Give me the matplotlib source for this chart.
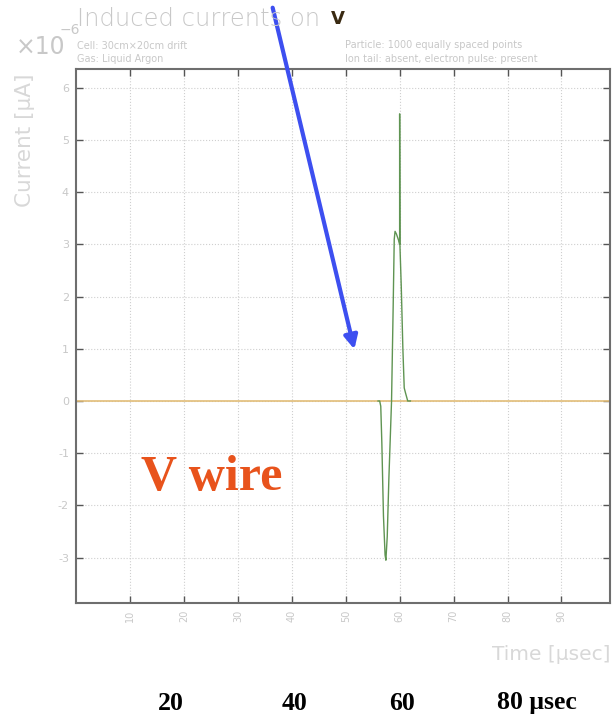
import matplotlib
matplotlib.use("Agg")
import matplotlib.pyplot as plt
import numpy as np

# ---- data ----
time_us = [56.0, 56.3, 56.5, 56.7, 57.0, 57.3, 57.45, 57.7, 58.0, 58.5, 58.8, 59.0,
           59.15, 59.4, 59.8, 60.0, 60.0, 60.05, 60.3, 60.6, 60.85, 61.1, 61.5, 62.0]
current = [0, 0, -0.1, -0.8, -2.2, -2.95, -3.05, -2.6, -1.5, 0.0, 1.8, 3.1,
           3.25, 3.2, 3.08, 3.0, 5.5, 3.0, 2.2, 1.0, 0.25, 0.15, 0.0, 0]
base_t = [0, 99]
base_i = [0, 0]
xticks = [10, 20, 30, 40, 50, 60, 70, 80, 90]
yticks = [-3, -2, -1, 0, 1, 2, 3, 4, 5, 6]
bottom_labels = ["20", "40", "60", "80 μsec"]

W, H = 613, 717
fig = plt.figure(figsize=(W / 100, H / 100), dpi=100)
ax = fig.add_axes([76 / W, 1 - 603 / H, (610 - 76) / W, (603 - 69) / H])

ax.plot(base_t, base_i, color="#e2bd78", lw=1.2, zorder=2)
ax.plot(time_us, current, color="#5f9452", lw=1.0, zorder=3)

ax.set_xlim(0, 99)
ax.set_ylim(-3.87, 6.36)
ax.set_xticks(xticks)
ax.set_yticks(yticks)
ax.set_xticklabels([str(v) for v in xticks], rotation=90, color="#c8c8c8", fontsize=7)
ax.set_yticklabels([str(v) for v in yticks], color="#c8c8c8", fontsize=8)
ax.tick_params(direction="in", length=5, width=1, color="#555555",
               top=True, right=True, pad=5)
ax.grid(True, linestyle=":", color="#cfcfcf", lw=0.8)
for s in ax.spines.values():
    s.set_color("#6e6e6e")
    s.set_linewidth(1.5)

def fx(px):
    return px / W

def fy(py):
    return 1 - py / H

light = "#c8c8c8"
fig.text(fx(77), fy(19), "Induced currents on", fontsize=17.5, color=light,
         va="center", ha="left", family="DejaVu Sans", fontweight="light")
fig.text(fx(331), fy(19), "V", fontsize=13, color="#3a2a12", va="center",
         ha="left", family="DejaVu Sans", fontweight="bold")
fig.text(fx(16), fy(47), "×10", fontsize=17, color=light, va="center", ha="left")
fig.text(fx(60), fy(30), "−6", fontsize=10, color=light, va="center", ha="left")
fig.text(fx(77), fy(46), "Cell: 30cm×20cm drift", fontsize=7, color=light, va="center")
fig.text(fx(77), fy(59), "Gas: Liquid Argon", fontsize=7, color=light, va="center")
fig.text(fx(345), fy(45), "Particle: 1000 equally spaced points", fontsize=7,
         color=light, va="center")
fig.text(fx(345), fy(59), "Ion tail: absent, electron pulse: present", fontsize=7,
         color=light, va="center")
fig.text(fx(25), fy(140), "Current [μA]", fontsize=15.5, color="#d8d8d8",
         rotation=90, va="center", ha="center")
fig.text(fx(611), fy(655), "Time [μsec]", fontsize=14.5, color="#d8d8d8",
         va="center", ha="right")

fig.text(fx(141), fy(478), "V wire", fontsize=36, color="#e8531c",
         family="Liberation Serif", fontweight="bold", va="center", ha="left")

for lab, px in zip(bottom_labels, [171, 294, 402, 497]):
    ha = "left" if "μ" in lab else "center"
    fig.text(fx(px), fy(703), lab, fontsize=18.5, color="black",
             family="Liberation Serif", fontweight="bold", va="center", ha=ha)

fig.patches.append(matplotlib.patches.FancyArrowPatch(
    (fx(272), fy(5)), (fx(355), fy(352)), transform=fig.transFigure,
    arrowstyle="-|>,head_length=8,head_width=4", color="#3d4ff0", lw=3.0,
    mutation_scale=1))

fig.savefig("out.png", dpi=100)
